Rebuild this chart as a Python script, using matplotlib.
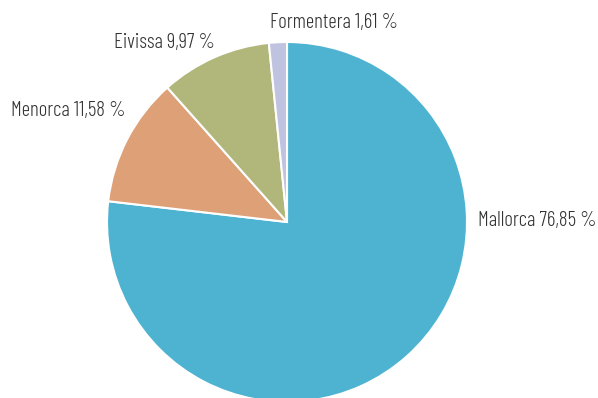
import matplotlib.pyplot as plt

islands = ["Mallorca", "Menorca", "Eivissa", "Formentera"]
shares = [76.85, 11.58, 9.97, 1.61]
colors = ["#4eb3d1", "#dea077", "#b1b77b", "#c0c3e0"]

# label anchors (pie radius = 1) and alignment
label_pos = [(1.06, 0.01, "left"), (-0.90, 0.62, "right"),
             (-0.40, 1.00, "right"), (-0.095, 1.11, "left")]

fig = plt.figure(figsize=(5.98, 3.98), dpi=100)
ax = fig.add_axes([0, 0, 1, 1])

ax.pie(shares, colors=colors, startangle=90, counterclock=False,
       wedgeprops=dict(edgecolor="white", linewidth=1.5))

for name, val, (x, y, ha) in zip(islands, shares, label_pos):
    txt = f"{val:.2f}".replace(".", ",")
    ax.text(x, y, f"{name} {txt} %", ha=ha, va="center",
            fontsize=15, fontweight=300, color="#333333",
            family=["Barlow Condensed", "Roboto Condensed", "DejaVu Sans"])

# 180 px per unit, centre at (287, 222) px
ax.set_xlim(-287 / 180, (598 - 287) / 180)
ax.set_ylim(-(398 - 222) / 180, 222 / 180)
ax.set_aspect("auto")
ax.axis("off")

fig.savefig("out.png", dpi=100)
